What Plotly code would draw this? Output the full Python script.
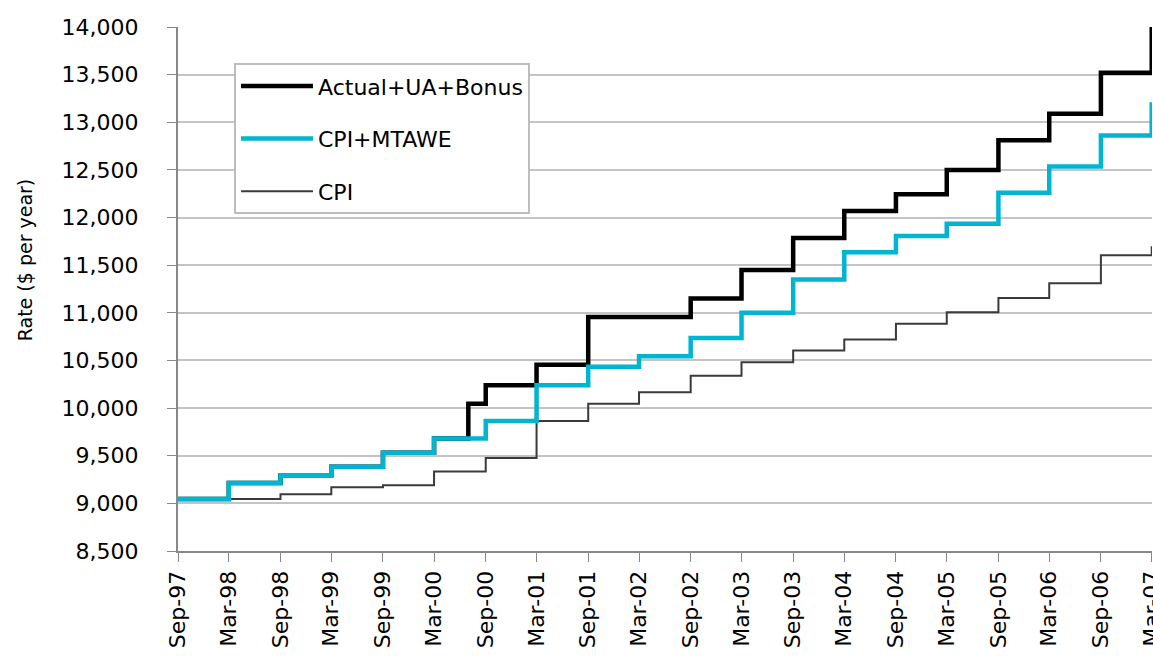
import plotly.graph_objects as go

# step dates (first of month); Jul-00 is the extra GST step on the actual series
dates = [
    "1997-09-01", "1998-03-01", "1998-09-01", "1999-03-01", "1999-09-01",
    "2000-03-01", "2000-07-01", "2000-09-01", "2001-03-01", "2001-09-01",
    "2002-03-01", "2002-09-01", "2003-03-01", "2003-09-01", "2004-03-01",
    "2004-09-01", "2005-03-01", "2005-09-01", "2006-03-01", "2006-09-01",
    "2007-03-01",
]

actual_ua_bonus = [
    9045, 9215, 9295, 9385, 9530,
    9680, 10045, 10240, 10455, 10955,
    10955, 11150, 11450, 11785, 12070,
    12245, 12500, 12810, 13090, 13520,
    14000,
]

cpi_mtawe = [
    9045, 9215, 9295, 9385, 9530,
    9680, 9680, 9865, 10240, 10435,
    10545, 10735, 11000, 11350, 11635,
    11805, 11935, 12260, 12535, 12860,
    13210,
]

cpi = [
    9045, 9045, 9095, 9170, 9190,
    9335, 9335, 9475, 9865, 10045,
    10165, 10340, 10480, 10605, 10720,
    10885, 11005, 11155, 11310, 11605,
    11700,
]

y_ticks = list(range(8500, 14001, 500))

FONT = "DejaVu Sans"

fig = go.Figure()

# CPI first so the heavier lines sit on top
fig.add_trace(go.Scatter(
    x=dates, y=cpi, mode="lines", name="CPI", line_shape="hv",
    line=dict(color="#3a3a3a", width=2), legendrank=3, legendgroup="c",
))
fig.add_trace(go.Scatter(
    x=dates, y=actual_ua_bonus, mode="lines", name="Actual+UA+Bonus", line_shape="hv",
    line=dict(color="#000000", width=4.5), legendrank=1, legendgroup="a",
))
fig.add_trace(go.Scatter(
    x=dates, y=cpi_mtawe, mode="lines", name="CPI+MTAWE", line_shape="hv",
    line=dict(color="#00b5cf", width=4.5), legendrank=2, legendgroup="b",
))

fig.update_layout(
    width=1153, height=666,
    margin=dict(l=178, r=1, t=27, b=115),
    plot_bgcolor="white", paper_bgcolor="white",
    font=dict(family=FONT, size=22, color="#000000"),
    showlegend=True,
    legend=dict(
        x=0.0575, y=0.931, xanchor="left", yanchor="top",
        bgcolor="white", bordercolor="#bdbdbd", borderwidth=2,
        font=dict(family=FONT, size=22),
        tracegroupgap=21, itemwidth=72,
    ),
    annotations=[dict(
        text="Rate ($ per year)", textangle=-90,
        xref="paper", yref="paper", x=-0.157, y=0.555,
        xanchor="center", yanchor="middle", showarrow=False,
        font=dict(family=FONT, size=19),
    )],
)

fig.update_xaxes(
    type="date",
    range=["1997-09-01", "2007-03-02"],
    tick0="1997-09-01", dtick="M6", tickformat="%b-%y",
    tickangle=-90, ticks="outside", ticklen=9, tickcolor="#888888",
    showline=True, linecolor="#888888", linewidth=2,
    showgrid=False, zeroline=False, automargin=False,
    ticklabeloverflow="allow",
    tickfont=dict(family=FONT, size=22),
)

fig.update_yaxes(
    range=[8500, 14000],
    tickvals=y_ticks, tickformat=",d",
    ticks="outside", ticklen=9, tickcolor="#888888",
    showline=True, linecolor="#888888", linewidth=2,
    showgrid=True, gridcolor="#c4c4c4", gridwidth=2,
    zeroline=False, automargin=False, ticklabelstandoff=24,
    tickfont=dict(family=FONT, size=22),
)

fig.write_html(
    "out.html",
    config={"displayModeBar": False},
    post_script="document.body.style.margin='0';document.body.style.overflow='hidden';",
)
